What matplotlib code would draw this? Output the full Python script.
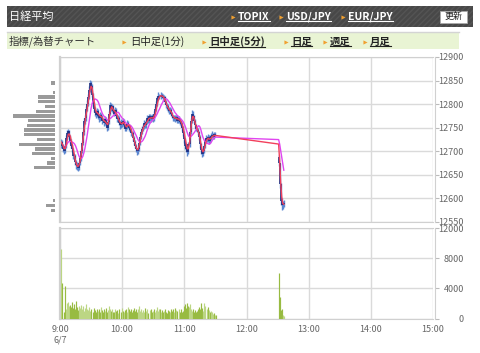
import matplotlib
matplotlib.use('Agg')
import matplotlib.pyplot as plt
from matplotlib.patches import Rectangle
import numpy as np
import pandas as pd

plt.rcParams['font.family'] = ['Noto Sans CJK JP', 'DejaVu Sans']
plt.rcParams['hatch.linewidth'] = 1.0

# minutes after 9:00, one bar per minute (bar end time)
am_minutes = np.arange(1, 151)
pm_minutes = np.arange(211, 217)

am_open = 12712
am_close = [
    12720, 12712, 12705, 12700, 12712, 12728, 12738, 12742, 12730, 12722,
    12712, 12705, 12690, 12678, 12670, 12668, 12665, 12675, 12685, 12700,
    12718, 12740, 12765, 12770, 12790, 12800, 12815, 12830, 12845, 12838,
    12820, 12800, 12790, 12782, 12778, 12785, 12775, 12770, 12778, 12772,
    12765, 12760, 12768, 12758, 12750, 12762, 12780, 12798, 12790, 12795,
    12785, 12780, 12788, 12775, 12768, 12770, 12760, 12755, 12762, 12758,
    12765, 12755, 12748, 12752, 12760, 12755, 12750, 12745, 12738, 12728,
    12720, 12712, 12705, 12700, 12705, 12718, 12730, 12740, 12748, 12752,
    12760, 12755, 12762, 12770, 12765, 12775, 12770, 12768, 12775, 12768,
    12780, 12790, 12800, 12812, 12818, 12815, 12820, 12818, 12812, 12815,
    12805, 12798, 12795, 12790, 12785, 12788, 12780, 12775, 12770, 12772,
    12768, 12772, 12765, 12770, 12766, 12762, 12758, 12750, 12738, 12725,
    12712, 12705, 12698, 12715, 12740, 12765, 12780, 12775, 12765, 12755,
    12748, 12745, 12740, 12730, 12715, 12702, 12695, 12700, 12712, 12722,
    12728, 12725, 12730, 12722, 12728, 12732, 12735, 12730, 12736, 12735,
]
am_high = [
    12726, 12724, 12716, 12710, 12716, 12734, 12745, 12748, 12746, 12734,
    12726, 12716, 12708, 12694, 12682, 12678, 12674, 12680, 12690, 12705,
    12722, 12746, 12770, 12778, 12795, 12808, 12822, 12838, 12852, 12850,
    12842, 12824, 12804, 12794, 12788, 12792, 12790, 12780, 12784, 12782,
    12776, 12770, 12774, 12772, 12762, 12768, 12786, 12804, 12802, 12800,
    12798, 12790, 12794, 12792, 12780, 12776, 12774, 12765, 12768, 12766,
    12770, 12768, 12758, 12758, 12766, 12764, 12758, 12755, 12750, 12742,
    12732, 12724, 12716, 12708, 12710, 12722, 12736, 12745, 12754, 12758,
    12766, 12764, 12768, 12776, 12774, 12780, 12780, 12776, 12780, 12778,
    12785, 12796, 12806, 12818, 12825, 12822, 12826, 12824, 12822, 12820,
    12818, 12808, 12802, 12800, 12794, 12794, 12792, 12784, 12778, 12778,
    12776, 12778, 12776, 12775, 12774, 12770, 12766, 12762, 12754, 12742,
    12728, 12716, 12708, 12720, 12745, 12770, 12788, 12786, 12778, 12768,
    12758, 12752, 12750, 12744, 12734, 12718, 12705, 12706, 12716, 12728,
    12734, 12732, 12736, 12734, 12735, 12738, 12742, 12738, 12740, 12740,
]
am_low = [
    12706, 12706, 12698, 12694, 12696, 12708, 12724, 12733, 12726, 12716,
    12706, 12699, 12684, 12670, 12662, 12660, 12658, 12660, 12670, 12680,
    12696, 12714, 12735, 12758, 12765, 12785, 12795, 12810, 12826, 12832,
    12815, 12794, 12784, 12774, 12770, 12772, 12768, 12762, 12765, 12766,
    12758, 12754, 12756, 12752, 12744, 12746, 12758, 12776, 12785, 12784,
    12780, 12774, 12776, 12770, 12762, 12764, 12755, 12748, 12750, 12752,
    12754, 12750, 12742, 12744, 12748, 12750, 12744, 12740, 12732, 12722,
    12714, 12706, 12698, 12692, 12694, 12700, 12714, 12725, 12736, 12744,
    12748, 12750, 12750, 12758, 12760, 12760, 12764, 12762, 12764, 12762,
    12764, 12776, 12786, 12796, 12808, 12810, 12810, 12812, 12806, 12806,
    12800, 12792, 12788, 12784, 12780, 12780, 12774, 12770, 12764, 12765,
    12762, 12764, 12760, 12760, 12760, 12756, 12752, 12744, 12732, 12718,
    12705, 12698, 12690, 12694, 12710, 12736, 12760, 12770, 12760, 12750,
    12742, 12740, 12734, 12724, 12708, 12695, 12688, 12690, 12696, 12708,
    12718, 12720, 12720, 12716, 12718, 12724, 12728, 12726, 12726, 12730,
]
am_volume = [
    9300, 4750, 900, 4300, 1300, 2000, 2200, 1600, 1800, 1500,
    2200, 1400, 1900, 1300, 2300, 1500, 1100, 1700, 1400, 1800,
    1200, 1600, 1000, 1400, 1900, 1300, 1100, 1500, 1000, 1200,
    900, 1400, 1100, 800, 1300, 1000, 1200, 900, 1500, 1100,
    800, 1200, 1000, 1400, 900, 1100, 1600, 1300, 1000, 1200,
    900, 800, 1300, 1000, 1100, 700, 1200, 900, 1400, 1000,
    800, 1100, 1300, 900, 1500, 1200, 1000, 1300, 900, 1100,
    1400, 1000, 1200, 800, 1300, 1600, 1000, 1200, 900, 1100,
    800, 1400, 1000, 1200, 700, 1100, 1300, 900, 1000, 1200,
    800, 1100, 1500, 1000, 1300, 1200, 900, 1100, 800, 1000,
    1200, 900, 700, 1100, 1000, 800, 1300, 1000, 1200, 900,
    1400, 1100, 1000, 1300, 900, 1200, 800, 1000, 1600, 1900,
    1400, 2000, 1700, 1500, 1900, 1200, 1000, 1300, 900, 1100,
    800, 1000, 1200, 1500, 1300, 2100, 1400, 1000, 2100, 1600,
    1300, 1500, 1100, 900, 1000, 800, 600, 700, 500, 400,
]

pm_open = 12688
pm_close = [12675, 12630, 12595, 12585, 12588, 12590]
pm_high = [12692, 12676, 12632, 12600, 12594, 12596]
pm_low = [12668, 12622, 12585, 12576, 12578, 12582]
pm_volume = [6000, 2800, 1100, 1200, 450, 300]

# price-by-volume profile on the left
profile_price = [12845, 12825, 12815, 12805, 12795, 12785, 12775, 12765, 12755, 12745,
                 12735, 12725, 12715, 12705, 12695, 12685, 12675, 12665, 12595, 12585, 12575]
profile_volume = [400, 200, 1700, 1700, 1000, 1900, 4200, 2700, 2800, 3100,
                  3100, 1800, 3600, 2000, 2300, 400, 800, 2100, 200, 900, 400]

price_ticks = [12550, 12600, 12650, 12700, 12750, 12800, 12850, 12900]
volume_ticks = [0, 4000, 8000, 12000]
time_ticks = [0, 60, 120, 180, 240, 300, 360]
time_labels = ['9:00\n6/7', '10:00', '11:00', '12:00', '13:00', '14:00', '15:00']

minutes = np.concatenate([am_minutes, pm_minutes])
close = pd.Series(am_close + pm_close, dtype=float)
opens = np.array([am_open] + am_close[:-1] + [pm_open] + pm_close[:-1], dtype=float)
high = np.array(am_high + pm_high, dtype=float)
low = np.array(am_low + pm_low, dtype=float)
volume = np.array(am_volume + pm_volume, dtype=float)
ma_short = close.rolling(3, min_periods=1).mean()
ma_long = close.rolling(10, min_periods=5).mean()

W, H = 480, 353
fig = plt.figure(figsize=(W / 100, H / 100), dpi=100)

# header drawn in pixel coordinates
bg = fig.add_axes([0, 0, 1, 1], zorder=0)
bg.axis('off')
bg.add_patch(Rectangle((6.5, 6), 466, 20.5, facecolor='#484848', edgecolor='#545454',
                       linewidth=0, hatch='//////'))
bg.text(9, 16.5, '日経平均', color='white', fontsize=8, va='center')
bg.plot([6.5, 459], [32.3, 32.3], color='#d4d4d4', lw=1)
bg.add_patch(Rectangle((6.5, 33), 452, 16, facecolor='#e9f4d4', edgecolor='none'))
bg.text(9, 41.5, '指標/為替チャート', color='#333333', fontsize=7.5, va='center')

links = []
for x, s in [(238, 'TOPIX'), (286, 'USD/JPY'), (348, 'EUR/JPY')]:
    bg.plot(x - 5, 16.5, marker='>', ms=3, color='#f0a030', mec='none')
    links.append((bg.text(x, 16.5, s, color='white', fontsize=7.5, fontweight='bold',
                          va='center'), 'white'))
bg.add_patch(Rectangle((440, 10.5), 27, 12, facecolor='white', edgecolor='#aaaaaa', lw=0.6))
bg.text(453.5, 16.8, '更新', color='#222222', fontsize=6.5, ha='center', va='center')

bg.plot(124, 41.5, marker='>', ms=3, color='#f0a030', mec='none')
bg.text(130, 41.5, '日中足(1分)', color='#222222', fontsize=7.5, va='center')
for x, s in [(209, '日中足(5分)'), (291, '日足'), (330, '週足'), (370, '月足')]:
    bg.plot(x - 5, 41.5, marker='>', ms=3, color='#f0a030', mec='none')
    links.append((bg.text(x, 41.5, s, color='#222222', fontsize=7.5, fontweight='bold',
                          va='center'), '#222222'))
bg.set_xlim(0, W)
bg.set_ylim(H, 0)


def style_axes(ax):
    ax.set_xlim(0, 360)
    ax.set_xticks(time_ticks)
    ax.grid(True, color='#dadada', lw=1)
    ax.set_axisbelow(True)
    for side in ['left', 'top', 'bottom', 'right']:
        ax.spines[side].set_color('#d0d0d0')
    ax.spines['left'].set_linewidth(1.6)
    ax.spines['right'].set_position(('outward', 1.2))
    ax.yaxis.tick_right()
    ax.tick_params(axis='y', length=3, color='#bbbbbb', labelsize=6.5,
                   labelcolor='#666666', pad=18)
    ax.tick_params(axis='x', length=0, labelsize=6.5, labelcolor='#666666', pad=5)
    for lab in ax.get_yticklabels():
        lab.set_ha('right')


left, right = 60, 433
price_ax = fig.add_axes([left / W, 1 - 222 / H, (right - left) / W, 165 / H], zorder=1)
vol_ax = fig.add_axes([left / W, 1 - 318.5 / H, (right - left) / W, 90.2 / H], zorder=1)
prof_ax = fig.add_axes([10 / W, 1 - 222 / H, 45 / W, 165 / H], zorder=1)

price_ax.set_ylim(12550, 12900)
price_ax.set_yticks(price_ticks)
style_axes(price_ax)
price_ax.set_xticklabels([])

price_ax.vlines(minutes, low, high, color='#5b86d0', lw=1)
price_ax.vlines(minutes, np.minimum(opens, close), np.maximum(opens, close),
                color='#1e2f80', lw=1.2)
price_ax.plot(minutes, ma_long, color='#e045f0', lw=1)
price_ax.plot(minutes, ma_short, color='#f2405c', lw=1)

vol_ax.set_ylim(0, 12000)
vol_ax.set_yticks(volume_ticks)
style_axes(vol_ax)
vol_ax.set_xticklabels(time_labels)
vol_colors = np.where(close.values >= opens, '#bcd684', '#98bb42')
vol_ax.vlines(minutes + 0.4, 0, volume, colors=vol_colors, lw=0.85, zorder=3)

prof_ax.barh(profile_price, profile_volume, height=7, color='#9a9a9a')
prof_ax.set_ylim(12550, 12900)
prof_ax.set_xlim(4500, 0)
prof_ax.axis('off')

# underline the link texts
fig.canvas.draw()
inv = bg.transData.inverted()
for txt, col in links:
    bb = txt.get_window_extent()
    (x0, y0), (x1, y1) = inv.transform([[bb.x0, bb.y0], [bb.x1, bb.y1]])
    bg.plot([x0, x1], [y0 - 0.5, y0 - 0.5], color=col, lw=0.8)
bg.set_xlim(0, W)
bg.set_ylim(H, 0)

fig.savefig('out.png', dpi=100)
